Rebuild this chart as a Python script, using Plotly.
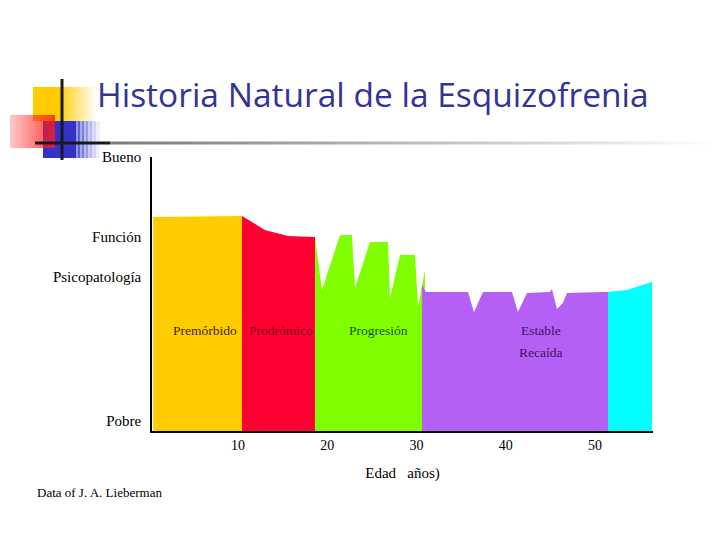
import plotly.graph_objects as go

# ---- data (age in years, function level 0-100) ----
premorbido_x = [0.5, 10.45]
premorbido_y = [78.1, 78.5]

prodromico_x = [10.45, 13.0, 15.6, 18.63]
prodromico_y = [78.5, 73.4, 71.2, 70.8]

progresion_x = [18.63, 19.41, 21.43, 22.77, 23.11, 24.79, 26.81, 27.03, 28.15, 29.83, 30.17, 30.95]
progresion_y = [70.4, 51.5, 71.5, 71.5, 52.2, 69.0, 69.0, 48.5, 64.2, 64.2, 45.3, 58.8]

estable_x = [30.62, 31.06, 35.77, 36.44, 37.45, 40.70, 41.37, 42.38, 44.96, 45.18, 45.74, 46.41, 46.86, 50.90, 51.46]
estable_y = [53.3, 50.7, 50.7, 43.4, 50.7, 50.7, 43.4, 50.4, 50.7, 51.8, 44.5, 46.7, 50.4, 50.7, 50.7]

final_x = [51.46, 53.59, 56.39]
final_y = [50.7, 51.5, 54.4]

x_ticks = [10, 20, 30, 40, 50]
y_tick_vals = [100, 70.8, 56.2, 3.65]
y_tick_text = ["Bueno", "Función", "Psicopatología", "Pobre"]

phases = [
    (premorbido_x, premorbido_y, "#FFCC00"),
    (prodromico_x, prodromico_y, "#FF0033"),
    (progresion_x, progresion_y, "#80FF00"),
    (estable_x, estable_y, "#B460F5"),
    (final_x, final_y, "#00FFFF"),
]

fig = go.Figure()
for xs, ys, col in phases:
    fig.add_trace(go.Scatter(
        x=[xs[0]] + xs + [xs[-1]], y=[0] + ys + [0],
        mode="lines", fill="toself", fillcolor=col,
        line=dict(width=0, color=col), hoverinfo="skip", showlegend=False))

SERIF = "Liberation Serif, Times New Roman, serif"

labels = [
    (6.3, 36.5, "Premórbido", "#3a2a00"),
    (14.82, 36.5, "Prodrómico", "#7a0018"),
    (25.69, 36.5, "Progresión", "#1f5200"),
    (43.95, 36.5, "Estable", "#3d1560"),
    (43.95, 28.5, "Recaída", "#3d1560"),
]
for x, y, t, c in labels:
    fig.add_annotation(x=x, y=y, text=t, showarrow=False,
                       font=dict(family=SERIF, size=13.5, color=c))

# ---- page decoration (pixel -> paper helpers) ----
L, R, T, B = 152, 75, 157, 115
PW, PH = 728 - L - R, 546 - T - B

def X(px):
    return (px - L) / PW

def Y(py):
    return (546 - B - py) / PH

shapes = []

def rect(x0, y0, x1, y1, color, op=1.0):
    shapes.append(dict(type="rect", xref="paper", yref="paper",
                       x0=X(x0), x1=X(x1), y0=Y(y1), y1=Y(y0),
                       fillcolor=color, opacity=op, line=dict(width=0), layer="above"))

def line(x0, y0, x1, y1, color, w, op=1.0):
    shapes.append(dict(type="line", xref="paper", yref="paper",
                       x0=X(x0), x1=X(x1), y0=Y(y0), y1=Y(y1),
                       line=dict(color=color, width=w), opacity=op, layer="above"))

# yellow square
rect(33, 87, 63, 121, "#FFCC00")
n = 16
for i in range(n):
    rect(63 + i * 2, 87, 65 + i * 2, 121, "#FFCC00", 0.85 * (1 - i / n))
# blue square
rect(43, 121, 76, 158, "#3333CC")
n = 12
for i in range(n):
    rect(76 + i * 2, 121, 78 + i * 2, 158, "#3333CC", 0.85 * (1 - i / n) * (0.6 + 0.4 * (i % 2)))
# red square (gradient, semi transparent)
n = 15
for i in range(n):
    rect(10 + i * 3, 115, 13 + i * 3, 148, "#FF1A1A", 0.25 + 0.6 * i / n)
# black cross lines
line(62, 79, 62, 160, "#1a1a1a", 3)
line(35, 143, 110, 143, "#1a1a1a", 3)
n = 30
for i in range(n):
    line(110 + i * 20, 143, 130 + i * 20, 143, "#666666", 3, 0.85 * (1 - i / n))

fig.update_layout(
    width=728, height=546,
    margin=dict(l=L, r=R, t=T, b=B),
    paper_bgcolor="white", plot_bgcolor="white",
    shapes=shapes,
    title=dict(text="Historia Natural de la Esquizofrenia",
               x=97 / 728, xref="container", xanchor="left",
               y=1 - 95 / 546, yref="container", yanchor="middle",
               font=dict(family="Open Sans, sans-serif", size=33.5, color="#333399")),
    xaxis=dict(range=[0.364, 56.5], showgrid=False, zeroline=False,
               showline=True, linecolor="black", linewidth=1.5,
               tickvals=x_ticks, ticks="",
               tickfont=dict(family=SERIF, size=14, color="black"),
               title=dict(text="Edad   años)", standoff=16,
                          font=dict(family=SERIF, size=15, color="black"))),
    yaxis=dict(range=[0, 100], showgrid=False, zeroline=False,
               showline=True, linecolor="black", linewidth=1.5,
               tickvals=y_tick_vals, ticktext=y_tick_text,
               ticks="outside", ticklen=6, tickcolor="white",
               tickfont=dict(family=SERIF, size=15, color="black")),
)

fig.add_annotation(xref="paper", yref="paper", x=X(35), y=Y(492),
                   xanchor="left", yanchor="middle", showarrow=False,
                   text="Data of J. A. Lieberman",
                   font=dict(family=SERIF, size=13, color="black"))

fig.write_html("out.html")
